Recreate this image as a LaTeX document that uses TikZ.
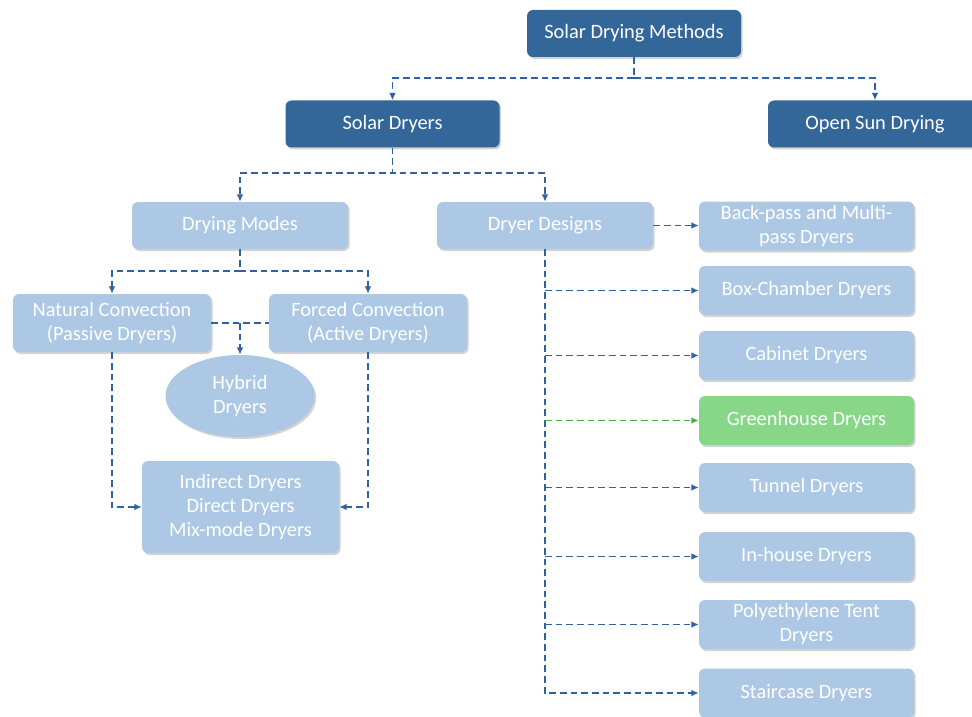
\documentclass[tikz,border=0pt]{standalone}
\usepackage{fontspec}
\setmainfont{Carlito}
\usepackage{tikz}
\usetikzlibrary{arrows.meta,shapes.geometric,shadows}
\definecolor{darkbox}{HTML}{336699}
\definecolor{lightbox}{HTML}{ADC8E4}
\definecolor{greenbox}{HTML}{88D688}
\definecolor{linkblue}{HTML}{2F62A0}
\definecolor{linkgreen}{HTML}{3CB43C}
\tikzset{
  box/.style={rounded corners=4.5pt, text=white, align=center,
    font=\fontsize{15.3}{18}\selectfont, inner sep=0pt,
    drop shadow={shadow xshift=1.2pt, shadow yshift=-1.5pt, opacity=0.35}},
  main/.style={box, fill=darkbox, minimum width=160.5pt, minimum height=35.25pt},
  group/.style={box, fill=lightbox, minimum width=162pt, minimum height=35.25pt},
  kind/.style={box, fill=lightbox, minimum width=161.25pt, minimum height=36.75pt},
  mode/.style={box, fill=lightbox, minimum width=148.5pt, minimum height=43.5pt},
  plain/.style={draw=linkblue, line width=1.3pt, dash pattern=on 5pt off 3pt},
  link/.style={plain, -{Latex[length=5.5pt,width=5pt]}},
  glink/.style={link, draw=linkgreen},
}

\begin{document}
\begin{tikzpicture}[x=0.75pt,y=-0.75pt]
  \clip (0,0) rectangle (972,717);
  % top level
  \node[main] (methods) at (634,33.5) {Solar Drying Methods};
  \node[main] (solar) at (392.5,124) {Solar Dryers};
  \node[main] (opensun) at (875,124) {Open Sun Drying};
  % second level
  \node[group] (modes) at (240,225.5) {Drying Modes};
  \node[group] (designs) at (545,225.5) {Dryer Designs};
  % drying modes
  \node[mode] (natural) at (112,323) {Natural Convection\\(Passive Dryers)};
  \node[mode] (forced) at (368,323) {Forced Convection\\(Active Dryers)};
  \node[box, ellipse, fill=lightbox, minimum width=111.75pt, minimum height=61.5pt]
    (hybrid) at (240,396) {Hybrid\\Dryers};
  \node[box, fill=lightbox, minimum width=147.75pt, minimum height=69pt]
    (types) at (240.5,507) {Indirect Dryers\\Direct Dryers\\Mix-mode Dryers};
  % dryer designs
  \node[kind] (backpass) at (806.5,226) {Back-pass and Multi-\\pass Dryers};
  \node[kind] (box) at (806.5,290.5) {Box-Chamber Dryers};
  \node[kind] (cabinet) at (806.5,355.5) {Cabinet Dryers};
  \node[kind, fill=greenbox] (green) at (806.5,420.5) {Greenhouse Dryers};
  \node[kind] (tunnel) at (806.5,487.5) {Tunnel Dryers};
  \node[kind] (inhouse) at (806.5,556.5) {In-house Dryers};
  \node[kind] (tent) at (806.5,624.5) {Polyethylene Tent\\Dryers};
  \node[kind] (stair) at (806.5,693) {Staircase Dryers};

  % connectors
  \draw[link] (methods.south) -- ++(0,21) -| (solar.north);
  \draw[link] (methods.south) -- ++(0,21) -| (opensun.north);
  \draw[link] (solar.south) -- ++(0,25) -| (modes.north);
  \draw[link] (solar.south) -- ++(0,25) -| (designs.north);
  \draw[link] (modes.south) -- ++(0,22) -| (natural.north);
  \draw[link] (modes.south) -- ++(0,22) -| (forced.north);
  \draw[plain] (natural.east) -- (forced.west);
  \draw[link] (natural.east -| hybrid.north) -- (hybrid.north);
  \draw[link] (natural.south) |- (types.west);
  \draw[link] (forced.south) |- (types.east);
  \draw[link] (designs.east) -- (backpass.west |- designs.east);
  \draw[link] (designs.south) |- (stair.west);
  \foreach \d in {box,cabinet,tunnel,inhouse,tent}
    \draw[link] (designs.south |- \d.west) -- (\d.west);
  \draw[glink] (designs.south |- green.west) -- (green.west);
\end{tikzpicture}
\end{document}
